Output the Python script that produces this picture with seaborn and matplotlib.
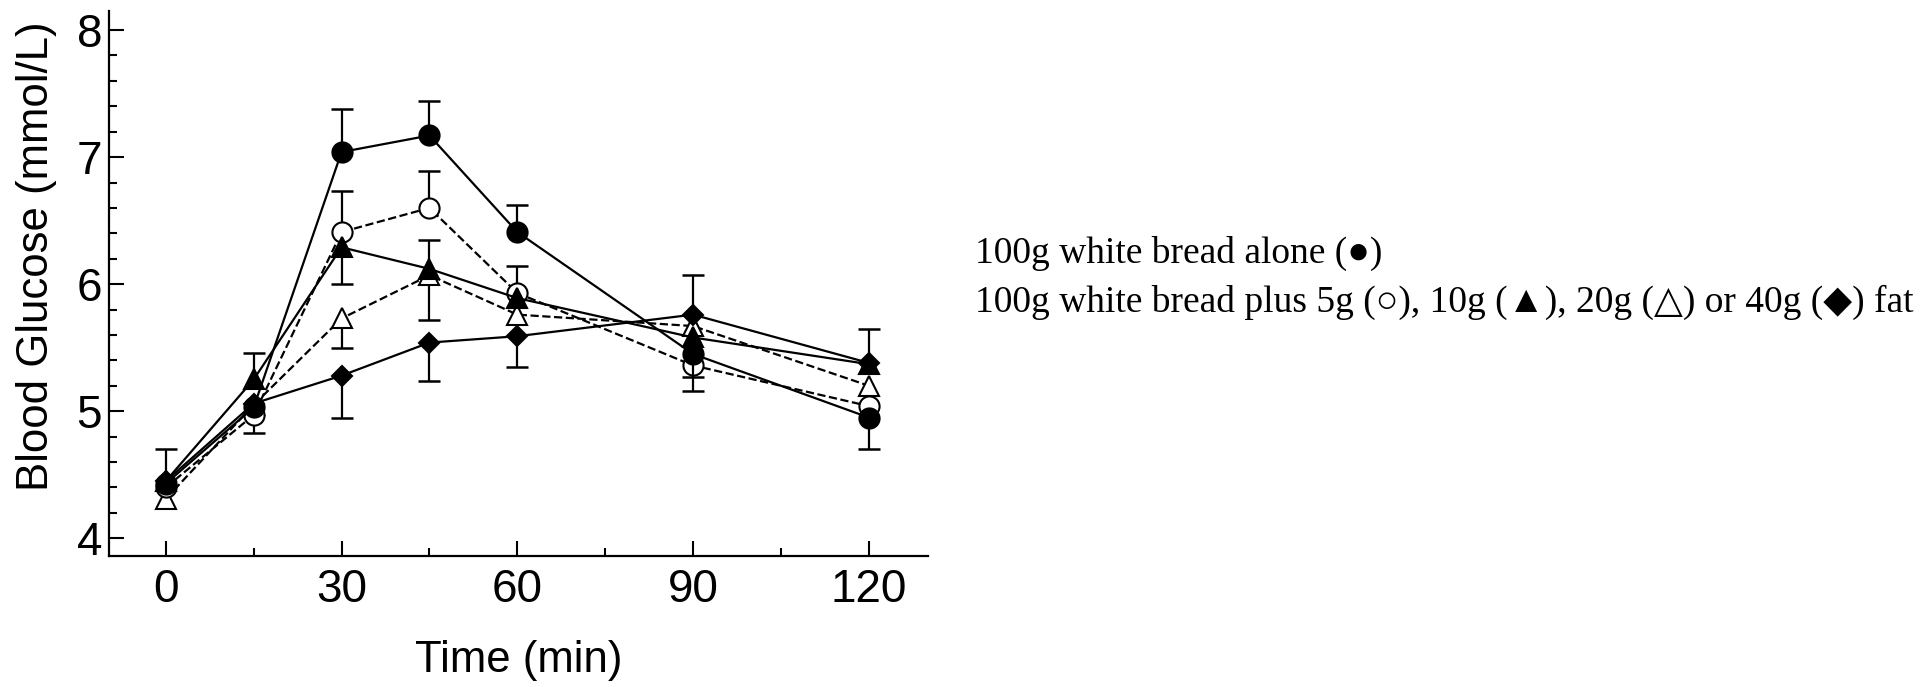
import numpy as np
import pandas as pd
import seaborn as sns
from matplotlib import pyplot as plt
from matplotlib.ticker import MultipleLocator

# time points (min)
time = [0, 15, 30, 45, 60, 90, 120]

# mean blood glucose (mmol/L) per meal
alone = [4.43, 5.03, 7.04, 7.17, 6.41, 5.45, 4.95]
fat5 = [4.40, 4.97, 6.41, 6.60, 5.93, 5.36, 5.04]
fat10 = [4.45, 5.25, 6.29, 6.12, 5.89, 5.58, 5.37]
fat20 = [4.31, 5.05, 5.73, 6.07, 5.76, 5.67, 5.20]
fat40 = [4.45, 5.06, 5.28, 5.54, 5.59, 5.76, 5.38]

# error bar length, sign = direction drawn (+ up, - down, 0 none)
alone_err = [0.27, 0, 0.34, 0.27, 0.21, -0.18, -0.25]
fat5_err = [0, -0.14, 0.32, 0.29, 0.21, -0.20, 0]
fat10_err = [0, 0.21, -0.29, 0.23, 0, 0, 0]
fat20_err = [0, 0, -0.23, -0.35, 0, 0, 0]
fat40_err = [0, 0, -0.33, -0.30, -0.24, 0.31, 0.27]

legend_line1 = "100g white bread alone (\u25cf)"
legend_line2 = "100g white bread plus 5g (\u25cb), 10g (\u25b2), 20g (\u25b3) or 40g (\u25c6) fat"

sns.set_style("ticks")
plt.rcParams['font.family'] = ['Liberation Sans', 'DejaVu Sans']
plt.rcParams['text.color'] = 'black'
plt.rcParams['axes.labelcolor'] = 'black'
plt.rcParams['xtick.color'] = 'black'
plt.rcParams['ytick.color'] = 'black'
plt.rcParams['axes.edgecolor'] = 'black'

fig = plt.figure(figsize=(19.29, 6.87), dpi=100)
ax = fig.add_axes([109 / 1929, 1 - 556 / 687, (928 - 109) / 1929, (556 - 11) / 687])

series = [
    ("alone", alone, alone_err, "o", "black", "-", 10),
    ("fat5", fat5, fat5_err, "o", "white", "--", 6),
    ("fat10", fat10, fat10_err, "^", "black", "-", 7),
    ("fat20", fat20, fat20_err, "^", "white", "--", 5),
    ("fat40", fat40, fat40_err, "D", "black", "-", 8),
]

t = np.array(time, dtype=float)
for name, vals, errs, mk, face, ls, z in series:
    v = np.array(vals)
    e = np.array(errs)
    m = e != 0
    ends = v[m] + e[m]
    # error bars: stem + cap at the far end only
    ax.vlines(t[m], v[m], ends, color="black", lw=1.6, zorder=z - 0.5)
    ax.plot(t[m], ends, ls="none", marker="_", markersize=16, mew=1.8,
            color="black", zorder=z - 0.5)
    sns.lineplot(x=t, y=v, ax=ax, color="black", linestyle=ls, lw=1.6,
                 marker=mk, markersize=14.5 if mk != "D" else 10.5,
                 markerfacecolor=face, markeredgecolor="black", mew=1.5,
                 zorder=z, dashes=False if ls == "-" else (4, 2.2))

ax.set_xlim(-9.7, 130.1)
ax.set_ylim(3.86, 8.15)
ax.xaxis.set_major_locator(MultipleLocator(30))
ax.xaxis.set_minor_locator(MultipleLocator(15))
ax.yaxis.set_major_locator(MultipleLocator(1))
ax.yaxis.set_minor_locator(MultipleLocator(0.2))
ax.tick_params(which="both", direction="in", width=1.5, labelsize=33, pad=9)
ax.tick_params(which="major", length=11)
ax.tick_params(which="minor", length=6)
ax.tick_params(axis="y", pad=5)
for s in ["top", "right"]:
    ax.spines[s].set_visible(False)
for s in ["left", "bottom"]:
    ax.spines[s].set_linewidth(1.6)

ax.set_xlabel("Time (min)", fontsize=31.5, labelpad=20)
ax.set_ylabel("Blood Glucose (mmol/L)", fontsize=31.5)
ax.yaxis.set_label_coords(-0.064, 0.55)

serif = ['Liberation Serif', 'DejaVu Serif']
fig.text(975 / 1929, 1 - 263 / 687, legend_line1, family=serif, fontsize=27, va="baseline")
fig.text(975 / 1929, 1 - 312 / 687, legend_line2, family=serif, fontsize=27, va="baseline")

fig.savefig("out.png", dpi=100)
